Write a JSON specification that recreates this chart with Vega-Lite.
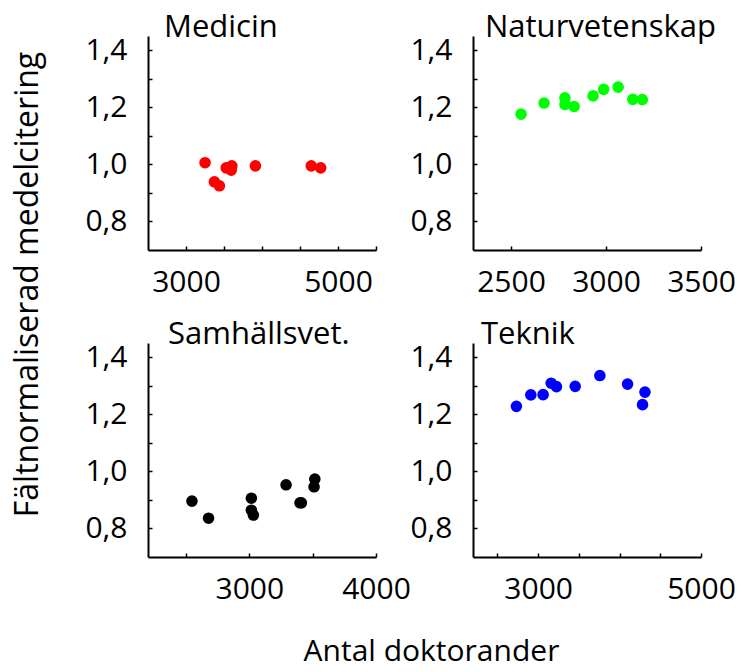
{
  "$schema": "https://vega.github.io/schema/vega-lite/v6.json",
  "padding": {"left": 10, "top": 12, "right": 5, "bottom": 5},
  "config": {
    "font": "Open Sans",
    "view": {"stroke": null},
    "axis": {
      "domainColor": "black", "domainWidth": 2,
      "tickColor": "black", "tickWidth": 1.5, "tickSize": -4,
      "labelFont": "Open Sans", "labelFontSize": 30, "labelColor": "black",
      "grid": false, "labelFlush": false, "labelOverlap": false,
      "titleFont": "Open Sans", "titleFontSize": 30, "titleFontWeight": "normal", "titleColor": "black"
    },
    "axisX": {"labelPadding": 21},
    "axisY": {"labelPadding": 25},
    "title": {"anchor": "start", "frame": "group", "fontSize": 31, "fontWeight": "normal", "font": "Open Sans", "color": "black", "baseline": "alphabetic", "offset": -9}
  },
  "data": {"values": [
    {"omrade": "Medicin", "doktorander": 3251, "citering": 1.006},
    {"omrade": "Medicin", "doktorander": 3374, "citering": 0.939},
    {"omrade": "Medicin", "doktorander": 3440, "citering": 0.925},
    {"omrade": "Medicin", "doktorander": 3529, "citering": 0.988},
    {"omrade": "Medicin", "doktorander": 3603, "citering": 0.995},
    {"omrade": "Medicin", "doktorander": 3595, "citering": 0.980},
    {"omrade": "Medicin", "doktorander": 3913, "citering": 0.995},
    {"omrade": "Medicin", "doktorander": 4648, "citering": 0.995},
    {"omrade": "Medicin", "doktorander": 4772, "citering": 0.988},
    {"omrade": "Naturvetenskap", "doktorander": 2553, "citering": 1.176},
    {"omrade": "Naturvetenskap", "doktorander": 2674, "citering": 1.215},
    {"omrade": "Naturvetenskap", "doktorander": 2784, "citering": 1.233},
    {"omrade": "Naturvetenskap", "doktorander": 2784, "citering": 1.210},
    {"omrade": "Naturvetenskap", "doktorander": 2832, "citering": 1.203},
    {"omrade": "Naturvetenskap", "doktorander": 2932, "citering": 1.240},
    {"omrade": "Naturvetenskap", "doktorander": 2988, "citering": 1.263},
    {"omrade": "Naturvetenskap", "doktorander": 3064, "citering": 1.271},
    {"omrade": "Naturvetenskap", "doktorander": 3141, "citering": 1.228},
    {"omrade": "Naturvetenskap", "doktorander": 3191, "citering": 1.227},
    {"omrade": "Samhallsvet", "doktorander": 2547, "citering": 0.896},
    {"omrade": "Samhallsvet", "doktorander": 2678, "citering": 0.836},
    {"omrade": "Samhallsvet", "doktorander": 3016, "citering": 0.906},
    {"omrade": "Samhallsvet", "doktorander": 3016, "citering": 0.864},
    {"omrade": "Samhallsvet", "doktorander": 3032, "citering": 0.847},
    {"omrade": "Samhallsvet", "doktorander": 3290, "citering": 0.953},
    {"omrade": "Samhallsvet", "doktorander": 3400, "citering": 0.890},
    {"omrade": "Samhallsvet", "doktorander": 3411, "citering": 0.890},
    {"omrade": "Samhallsvet", "doktorander": 3511, "citering": 0.946},
    {"omrade": "Samhallsvet", "doktorander": 3517, "citering": 0.973},
    {"omrade": "Teknik", "doktorander": 2733, "citering": 1.228},
    {"omrade": "Teknik", "doktorander": 2910, "citering": 1.268},
    {"omrade": "Teknik", "doktorander": 3061, "citering": 1.269},
    {"omrade": "Teknik", "doktorander": 3160, "citering": 1.309},
    {"omrade": "Teknik", "doktorander": 3225, "citering": 1.297},
    {"omrade": "Teknik", "doktorander": 3455, "citering": 1.298},
    {"omrade": "Teknik", "doktorander": 3758, "citering": 1.336},
    {"omrade": "Teknik", "doktorander": 4098, "citering": 1.306},
    {"omrade": "Teknik", "doktorander": 4312, "citering": 1.278},
    {"omrade": "Teknik", "doktorander": 4282, "citering": 1.234}
  ]},
  "columns": 2,
  "spacing": {"row": 93, "column": 97},
  "bounds": "flush",
  "concat": [
    {
      "width": 228, "height": 214,
      "title": {"text": "Medicin", "dx": 16},
      "transform": [{"filter": "datum.omrade == 'Medicin'"}],
      "mark": {"type": "point", "filled": true, "size": 135, "opacity": 1, "color": "#ff0000"},
      "encoding": {
        "x": {"field": "doktorander", "type": "quantitative", "scale": {"domain": [2500, 5500], "nice": false, "zero": false},
              "axis": {"title": null, "values": [3000, 3500, 4000, 4500, 5000, 5500], "labelExpr": "datum.value == 3000 || datum.value == 5000 ? format(datum.value, 'd') : ''"}},
        "y": {"field": "citering", "type": "quantitative", "scale": {"domain": [0.7, 1.45], "nice": false, "zero": false},
              "axis": {"values": [0.8, 0.9, 1.0, 1.1, 1.2, 1.3, 1.4], "labelExpr": "round(datum.value * 10) % 2 == 0 ? replace(format(datum.value, '.1f'), '.', ',') : ''",
                       "title": "Fältnormaliserad medelcitering", "titleFontSize": 32, "titleX": -111, "titleY": 248, "titleAngle": -90, "titleAlign": "center", "titleBaseline": "alphabetic"}}
      }
    },
    {
      "width": 228, "height": 214,
      "title": {"text": "Naturvetenskap", "dx": 12},
      "transform": [{"filter": "datum.omrade == 'Naturvetenskap'"}],
      "mark": {"type": "point", "filled": true, "size": 135, "opacity": 1, "color": "#00ff00"},
      "encoding": {
        "x": {"field": "doktorander", "type": "quantitative", "scale": {"domain": [2300, 3500], "nice": false, "zero": false},
              "axis": {"title": null, "values": [2500, 3000, 3500], "format": "d"}},
        "y": {"field": "citering", "type": "quantitative", "scale": {"domain": [0.7, 1.45], "nice": false, "zero": false},
              "axis": {"title": null, "values": [0.8, 0.9, 1.0, 1.1, 1.2, 1.3, 1.4], "labelExpr": "round(datum.value * 10) % 2 == 0 ? replace(format(datum.value, '.1f'), '.', ',') : ''"}}
      }
    },
    {
      "width": 228, "height": 214,
      "title": {"text": "Samhällsvet.", "dx": 20},
      "transform": [{"filter": "datum.omrade == 'Samhallsvet'"}],
      "mark": {"type": "point", "filled": true, "size": 135, "opacity": 1, "color": "#000000"},
      "encoding": {
        "x": {"field": "doktorander", "type": "quantitative", "scale": {"domain": [2200, 4000], "nice": false, "zero": false},
              "axis": {"values": [2500, 3000, 3500, 4000], "labelExpr": "datum.value == 3000 || datum.value == 4000 ? format(datum.value, 'd') : ''",
                       "title": "Antal doktorander", "titleX": 283, "titleY": 103, "titleAlign": "center", "titleBaseline": "alphabetic"}},
        "y": {"field": "citering", "type": "quantitative", "scale": {"domain": [0.7, 1.45], "nice": false, "zero": false},
              "axis": {"title": null, "values": [0.8, 0.9, 1.0, 1.1, 1.2, 1.3, 1.4], "labelExpr": "round(datum.value * 10) % 2 == 0 ? replace(format(datum.value, '.1f'), '.', ',') : ''"}}
      }
    },
    {
      "width": 228, "height": 214,
      "title": {"text": "Teknik", "dx": 8},
      "transform": [{"filter": "datum.omrade == 'Teknik'"}],
      "mark": {"type": "point", "filled": true, "size": 135, "opacity": 1, "color": "#0000ff"},
      "encoding": {
        "x": {"field": "doktorander", "type": "quantitative", "scale": {"domain": [2200, 5000], "nice": false, "zero": false},
              "axis": {"title": null, "values": [2500, 3000, 3500, 4000, 4500, 5000], "labelExpr": "datum.value == 3000 || datum.value == 5000 ? format(datum.value, 'd') : ''"}},
        "y": {"field": "citering", "type": "quantitative", "scale": {"domain": [0.7, 1.45], "nice": false, "zero": false},
              "axis": {"title": null, "values": [0.8, 0.9, 1.0, 1.1, 1.2, 1.3, 1.4], "labelExpr": "round(datum.value * 10) % 2 == 0 ? replace(format(datum.value, '.1f'), '.', ',') : ''"}}
      }
    }
  ]
}
